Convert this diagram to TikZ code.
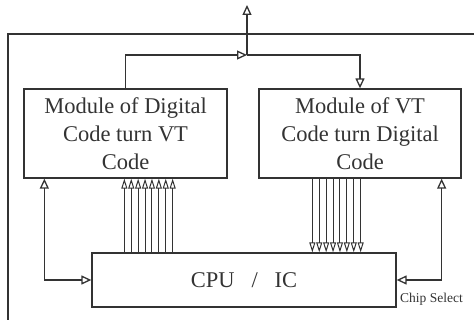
\documentclass[tikz,border=0pt]{standalone}
\usepackage{fontspec}
\setmainfont{Liberation Serif}
\usetikzlibrary{arrows.meta}
\tikzset{
  modbox/.style={draw=black!80,line width=1.3pt,text=black!80,align=center,
    minimum height=89pt,inner sep=0pt,font=\fontsize{22.5}{28}\selectfont},
  wire/.style={draw=black!80,line width=1.3pt},
  tip/.style={-{Triangle[open,length=10pt,width=9pt]}},
  bustip/.style={-{Triangle[open,length=10pt,width=6pt]}},
  dtip/.style={{Triangle[open,length=10pt,width=9pt]}-{Triangle[open,length=10pt,width=9pt]}}
}
\begin{document}
\begin{tikzpicture}[x=1pt,y=-1pt]
  \useasboundingbox (0,0) rectangle (474,320);
  % frame
  \draw[wire] (8,320) -- (8,34) -- (476,34);
  % modules
  \node[modbox,minimum width=203pt] (dig) at (125.5,133.5)
    {Module of Digital\\Code turn VT\\Code};
  \node[modbox,minimum width=202pt] (vt) at (360,133.5)
    {Module of VT\\Code turn Digital\\Code};
  \node[modbox,minimum width=304pt,minimum height=54pt] (cpu) at (244,280)
    {CPU~~~/~~~IC};
  \node[text=black!80,font=\fontsize{13.5}{15}\selectfont,anchor=west,inner sep=0pt] (cs)
    at (400,299) {Chip Select};
  % top connection
  \coordinate (jn) at (247,55);
  \coordinate (out) at (247,5);
  \draw[wire,tip] (dig.north) |- (jn);
  \draw[wire,tip] (jn) -- (out);
  \draw[wire,tip] (jn) -| (vt.north);
  % data buses
  \foreach \i in {0,...,7}{
    \draw[wire,line width=1pt,bustip] ([xshift={33+6.9*\i}]cpu.north west)
      -- ([xshift={33+6.9*\i}]cpu.north west |- dig.south);
    \draw[wire,line width=1pt,bustip] ([xshift={221+6.9*\i}]cpu.north west |- vt.south)
      -- ([xshift={221+6.9*\i}]cpu.north west);
  }
  % side links
  \draw[wire,dtip] ([xshift=21pt]dig.south west) |- (cpu.west);
  \draw[wire,dtip] ([xshift=-20pt]vt.south east) |- (cpu.east);
\end{tikzpicture}
\end{document}
